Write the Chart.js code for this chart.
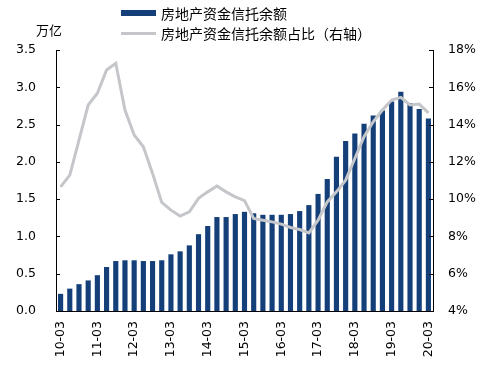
<!DOCTYPE html>
<html>
<head>
<meta charset="utf-8">
<script src="https://cdn.jsdelivr.net/npm/chart.js@4"></script>
<style>
    body { margin: 0; background: #fff; }
    #wrap { position: relative; width: 501px; height: 368px; }
    #unit { position: absolute; left: 36px; top: 20px; font: 13px "Noto Sans CJK SC"; color: #000; }
    #legend { position: absolute; left: 121px; top: 3px; font: 14px "Noto Sans CJK SC"; color: #000; }
    .item { display: flex; align-items: center; height: 20px; }
    .swatch { width: 35px; margin-right: 5px; }
</style>
</head>
<body>
<div id="wrap">
    <canvas id="chart" width="501" height="368"></canvas>
    <div id="unit">万亿</div>
    <div id="legend"></div>
</div>
<script>
// quarterly data, 2010Q1 - 2020Q1
const categories = [
    '10-03', '10-06', '10-09', '10-12', '11-03', '11-06', '11-09', '11-12',
    '12-03', '12-06', '12-09', '12-12', '13-03', '13-06', '13-09', '13-12',
    '14-03', '14-06', '14-09', '14-12', '15-03', '15-06', '15-09', '15-12',
    '16-03', '16-06', '16-09', '16-12', '17-03', '17-06', '17-09', '17-12',
    '18-03', '18-06', '18-09', '18-12', '19-03', '19-06', '19-09', '19-12',
    '20-03'
];
const trustBalance = [
    0.23, 0.30, 0.36, 0.41, 0.48, 0.59, 0.67, 0.68, 0.68, 0.67, 0.67, 0.68,
    0.76, 0.80, 0.88, 1.03, 1.14, 1.26, 1.26, 1.30, 1.33, 1.31, 1.29, 1.29,
    1.29, 1.30, 1.34, 1.42, 1.57, 1.77, 2.07, 2.28, 2.38, 2.51, 2.62, 2.69,
    2.81, 2.94, 2.79, 2.71, 2.58
];
const trustShare = [
    10.66, 11.29, 13.17, 15.05, 15.68, 16.93, 17.29, 14.78, 13.44, 12.81, 11.38, 9.82,
    9.41, 9.09, 9.32, 10.04, 10.39, 10.70, 10.39, 10.12, 9.92, 8.96, 8.87, 8.78,
    8.66, 8.48, 8.37, 8.19, 8.87, 9.85, 10.39, 11.02, 12.18, 13.35, 14.15, 14.78,
    15.32, 15.46, 15.05, 15.10, 14.63
];
const leftTicks = [0, 0.5, 1, 1.5, 2, 2.5, 3, 3.5];
const rightTicks = [4, 6, 8, 10, 12, 14, 16, 18];

const barColor = '#143f78';
const lineColor = '#c4c6ca';
const tickFont = { family: 'DejaVu Sans', size: 12.5 };

// small tick marks pointing into the plot area
const innerTicks = {
    id: 'innerTicks',
    afterDraw(chart) {
        const ctx = chart.ctx;
        const area = chart.chartArea;
        ctx.save();
        ctx.strokeStyle = '#000';
        ctx.lineWidth = 1;
        ctx.beginPath();
        chart.scales.y.ticks.forEach(t => {
            const py = Math.round(chart.scales.y.getPixelForValue(t.value)) + 0.5;
            ctx.moveTo(area.left, py);
            ctx.lineTo(area.left + 4, py);
        });
        chart.scales.y1.ticks.forEach(t => {
            const py = Math.round(chart.scales.y1.getPixelForValue(t.value)) + 0.5;
            ctx.moveTo(area.right, py);
            ctx.lineTo(area.right - 4, py);
        });
        ctx.stroke();
        ctx.restore();
    }
};

const chart = new Chart(document.getElementById('chart'), {
    data: {
        labels: categories,
        datasets: [{
            type: 'line',
            label: '房地产资金信托余额占比（右轴）',
            data: trustShare,
            yAxisID: 'y1',
            borderColor: lineColor,
            borderWidth: 3,
            pointRadius: 0,
            tension: 0,
            order: 0
        }, {
            type: 'bar',
            label: '房地产资金信托余额',
            data: trustBalance,
            yAxisID: 'y',
            backgroundColor: barColor,
            categoryPercentage: 1,
            barPercentage: 0.56,
            order: 1
        }]
    },
    options: {
        responsive: false,
        animation: false,
        devicePixelRatio: 1,
        layout: { padding: { top: 50 } },
        plugins: {
            legend: { display: false },
            tooltip: { enabled: false }
        },
        scales: {
            x: {
                grid: { display: false, drawTicks: false },
                border: { color: '#000' },
                ticks: {
                    autoSkip: false,
                    minRotation: 90,
                    maxRotation: 90,
                    padding: 10,
                    color: '#000',
                    font: tickFont,
                    callback: (v, i) => (i % 4 === 0 ? categories[i] : '')
                },
                afterFit: s => { s.height = 57; }
            },
            y: {
                position: 'left',
                min: leftTicks[0],
                max: leftTicks[leftTicks.length - 1],
                grid: { display: false, drawTicks: false },
                border: { color: '#000' },
                ticks: {
                    stepSize: 0.5,
                    padding: 20,
                    color: '#000',
                    font: tickFont,
                    callback: v => v.toFixed(1)
                },
                afterFit: s => { s.width = 56; }
            },
            y1: {
                position: 'right',
                min: rightTicks[0],
                max: rightTicks[rightTicks.length - 1],
                grid: { display: false, drawTicks: false },
                border: { color: '#000' },
                ticks: {
                    stepSize: 2,
                    padding: 15,
                    color: '#000',
                    font: tickFont,
                    callback: v => v + '%'
                },
                afterFit: s => { s.width = 68; }
            }
        }
    },
    plugins: [innerTicks]
});

// legend: bars first, line second, stacked
const legend = document.getElementById('legend');
[1, 0].forEach(i => {
    const ds = chart.data.datasets[i];
    const item = document.createElement('div');
    item.className = 'item';
    const sw = document.createElement('span');
    sw.className = 'swatch';
    if (ds.type === 'bar') {
        sw.style.height = '6px';
        sw.style.background = ds.backgroundColor;
    } else {
        sw.style.height = '3px';
        sw.style.background = ds.borderColor;
    }
    const txt = document.createElement('span');
    txt.textContent = ds.label;
    item.appendChild(sw);
    item.appendChild(txt);
    legend.appendChild(item);
});
</script>
</body>
</html>
